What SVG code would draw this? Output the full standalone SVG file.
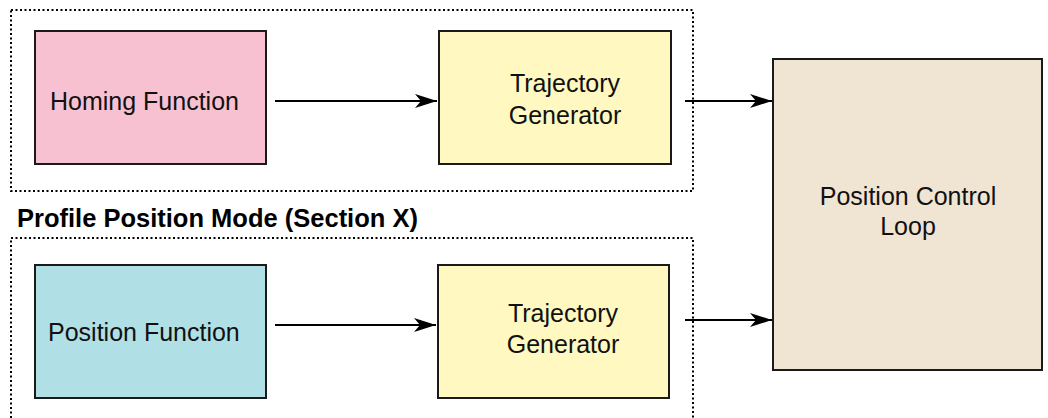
<svg xmlns="http://www.w3.org/2000/svg" width="1048" height="418" viewBox="0 0 1048 418">
<style>
.grp{fill:none;stroke:#000;stroke-width:2;stroke-dasharray:2 2.5}
.box{stroke:#1a1a1a;stroke-width:2}
.t{font-family:"Liberation Sans",Arial,sans-serif;font-size:25px;fill:#111}
.title{font-family:"Liberation Sans",Arial,sans-serif;font-size:25.5px;font-weight:bold;fill:#000}
.c{stroke:#000;stroke-width:2;fill:none;marker-end:url(#ah)}
</style>
<defs>
<marker id="ah" markerUnits="userSpaceOnUse" viewBox="-24 -8 26 16" refX="0" refY="0" markerWidth="26" markerHeight="16" orient="auto">
<path d="M0,0 L-22,-7 L-16,0 L-22,7 Z" fill="#000"/>
</marker>
</defs>
<rect class="grp" x="11" y="10" width="682" height="181"/>
<text class="title" x="17" y="227">Profile Position Mode (Section X)</text>
<rect class="grp" x="11" y="238" width="682" height="200"/>
<g id="homing">
<rect class="box" x="35" y="31" width="231" height="133" fill="#F8C1D1"/>
<text class="t" x="50" y="110">Homing Function</text>
</g>
<g id="traj1">
<rect class="box" x="439" y="31" width="232" height="133" fill="#FFF9C1"/>
<text class="t" x="565" y="92" text-anchor="middle">Trajectory</text>
<text class="t" x="565" y="124" text-anchor="middle">Generator</text>
</g>
<g id="position">
<rect class="box" x="35" y="265" width="231" height="133" fill="#B0E0E6"/>
<text class="t" x="48" y="341">Position Function</text>
</g>
<g id="traj2">
<rect class="box" x="438" y="265" width="231" height="133" fill="#FFF9C1"/>
<text class="t" x="563" y="322" text-anchor="middle">Trajectory</text>
<text class="t" x="563" y="353" text-anchor="middle">Generator</text>
</g>
<g id="pcl">
<rect class="box" x="773" y="59" width="269" height="311" fill="#F0E4D2"/>
<text class="t" x="908" y="205" text-anchor="middle">Position Control</text>
<text class="t" x="908" y="235" text-anchor="middle">Loop</text>
</g>
<g id="connectors">
<path class="c" d="M275,101 H437"/>
<path class="c" d="M685,101 H772"/>
<path class="c" d="M275,325 H436"/>
<path class="c" d="M685,320 H772"/>
</g>
</svg>
